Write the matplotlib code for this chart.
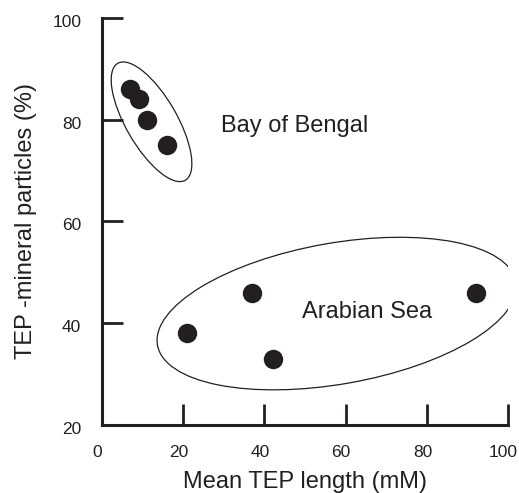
import matplotlib
matplotlib.use("Agg")
import matplotlib.pyplot as plt
from matplotlib.patches import Ellipse
from matplotlib.transforms import ScaledTranslation

plt.rcParams['font.family'] = ['Liberation Sans', 'DejaVu Sans']

# data
bengal_len = [7, 9, 11, 16]
bengal_pct = [86, 84, 80, 75]
arabian_len = [21, 37, 42, 92]
arabian_pct = [38, 46, 33, 46]

xticks = [0, 20, 40, 60, 80, 100]
yticks = [20, 40, 60, 80, 100]

# group outlines: centre (data), width/height (inches), angle (deg)
bengal_ell = ((12.2, 79.6), 1.35, 0.51, -60)
arabian_ell = ((57.8, 41.9), 3.64, 1.41, 10)

ink = '#231f20'

fig = plt.figure(figsize=(5.19, 4.93), dpi=100)
ax = fig.add_axes([0.1965, 0.138, 0.7825, 0.8255])

ax.scatter(bengal_len, bengal_pct, s=196, color=ink, zorder=3, linewidths=0)
ax.scatter(arabian_len, arabian_pct, s=196, color=ink, zorder=3, linewidths=0)

for (c, w, h, ang) in [bengal_ell, arabian_ell]:
    tr = fig.dpi_scale_trans + ScaledTranslation(c[0], c[1], ax.transData)
    e = Ellipse((0, 0), w, h, angle=ang, transform=tr, fill=False,
                edgecolor=ink, linewidth=0.9)
    ax.add_patch(e)

ax.text(29.3, 78.8, 'Bay of Bengal', fontsize=17, color=ink, va='center')
ax.text(49.3, 42.2, 'Arabian Sea', fontsize=17, color=ink, va='center')

ax.set_xlim(0, 100)
ax.set_ylim(20, 100)
ax.set_xticks(xticks)
ax.set_yticks(yticks)

for s in ['top', 'right']:
    ax.spines[s].set_visible(False)
for s in ['left', 'bottom']:
    ax.spines[s].set_linewidth(2.2)
    ax.spines[s].set_color(ink)

ax.tick_params(axis='both', direction='in', length=15, width=2, color=ink,
               labelsize=12.5, labelcolor=ink)
ax.tick_params(axis='x', pad=14.5)
ax.tick_params(axis='y', pad=15)

# labels in the original sit a little off their ticks
for lab in ax.get_xticklabels():
    lab.set_transform(lab.get_transform() + ScaledTranslation(-0.045, 0, fig.dpi_scale_trans))
for lab in ax.get_yticklabels():
    lab.set_transform(lab.get_transform() + ScaledTranslation(0, -0.03, fig.dpi_scale_trans))

ax.set_xlabel('Mean TEP length (mM)', fontsize=17, color=ink, labelpad=8)
ax.set_ylabel('TEP -mineral particles (%)', fontsize=17, color=ink, labelpad=11)

fig.savefig('out.png', dpi=100)
